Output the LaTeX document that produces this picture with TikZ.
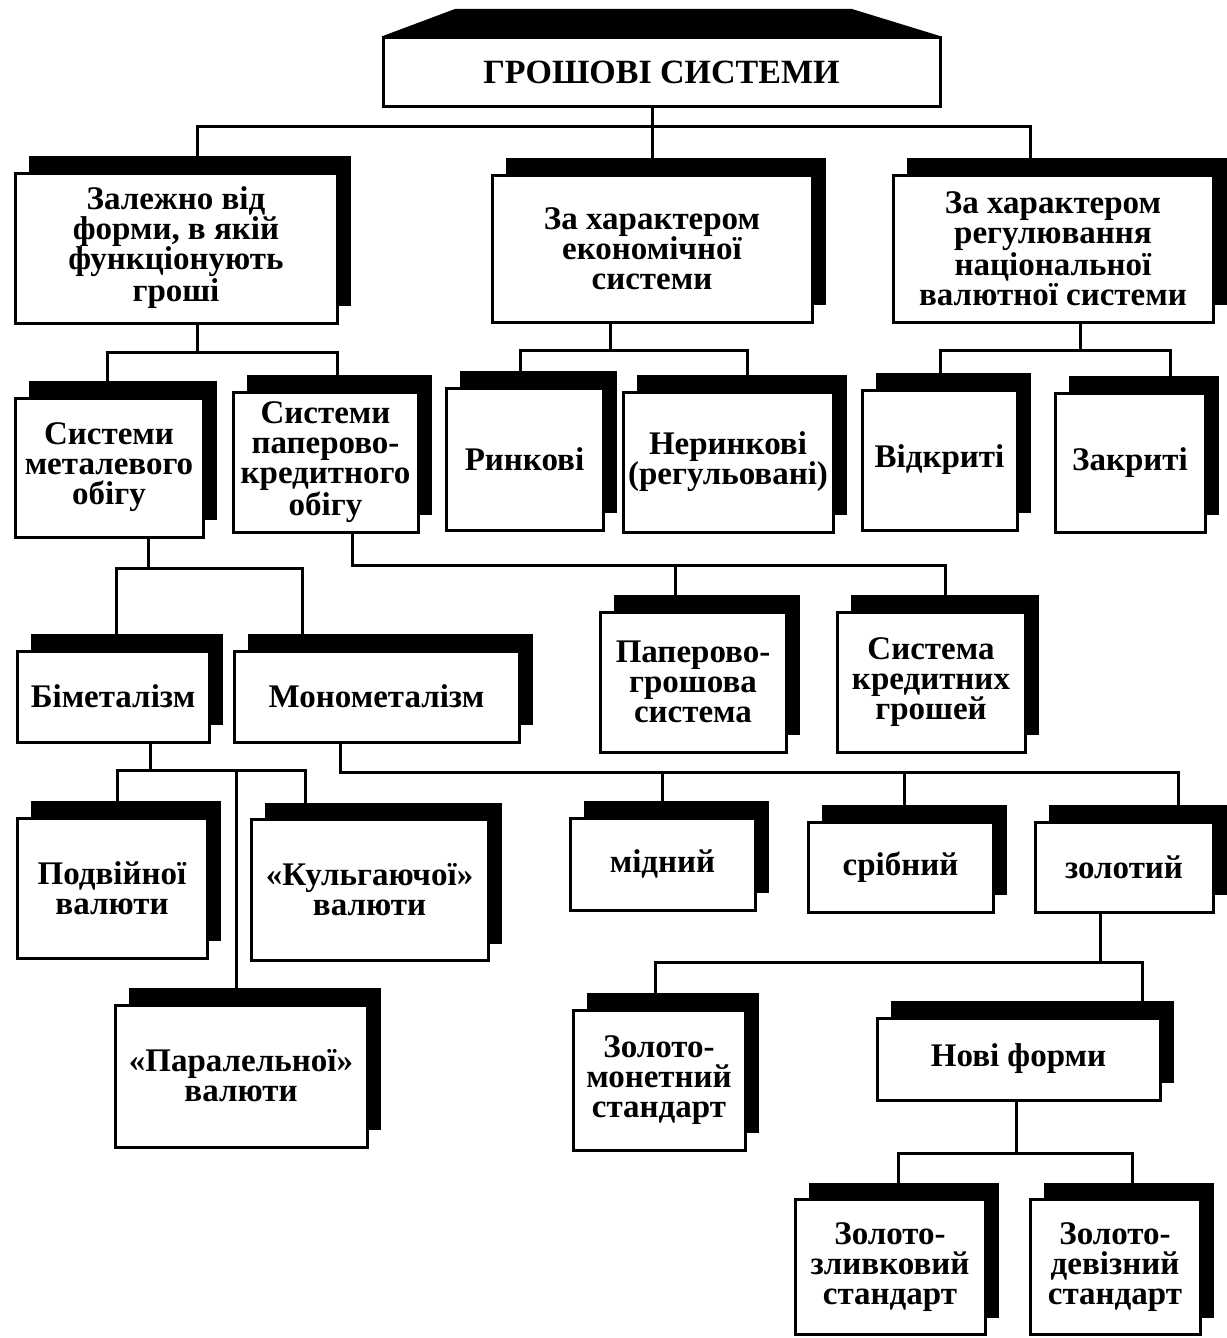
\documentclass[tikz,border=0pt]{standalone}
\usepackage{fontspec}
\setmainfont{Liberation Serif}
\usetikzlibrary{shadows}

\begin{document}
\begin{tikzpicture}[%
  x=0.5pt,y=-0.5pt,
  headbox/.style={rectangle,draw,fill=white,line width=1.5pt,inner sep=1pt,
    align=center,font=\bfseries\fontsize{17}{17}\selectfont},
  sysbox/.style={rectangle,draw,fill=white,line width=1.5pt,inner sep=1pt,
    align=center,font=\bfseries\fontsize{16.5}{15}\selectfont,
    drop shadow={shadow xshift=7pt,shadow yshift=8.5pt,fill=black,opacity=1}},
  link/.style={line width=1.5pt}]
    \useasboundingbox (0,0) rectangle (1226,1338);
    % Title
    \node[headbox,minimum width=278.5pt,minimum height=34.5pt] (title) at (661.5,72.5) {ГРОШОВІ СИСТЕМИ};
    \fill (title.north west) -- (455,9) -- (852,9) -- (title.north east) -- cycle;
    % First level
    \node[sysbox,minimum width=161pt,minimum height=75pt] (a1) at (176,248) {Залежно від\\форми, в якій\\функціонують\\гроші};
    \node[sysbox,minimum width=160pt,minimum height=73.5pt] (a2) at (652,248.5) {За характером\\економічної\\системи};
    \node[sysbox,minimum width=160pt,minimum height=73.5pt] (a3) at (1053,248.5) {За характером\\регулювання\\національної\\валютної системи};
    % Second level
    \node[sysbox,minimum width=94pt,minimum height=69.5pt] (b1) at (109,467.5) {Системи\\металевого\\обігу};
    \node[sysbox,minimum width=92.5pt,minimum height=70pt] (b2) at (325.5,462) {Системи\\паперово-\\кредитного\\обігу};
    \node[sysbox,minimum width=78.5pt,minimum height=71pt] (c1) at (524.5,459) {Ринкові};
    \node[sysbox,minimum width=105pt,minimum height=70pt] (c2) at (728,462) {Неринкові\\(регульовані)};
    \node[sysbox,minimum width=77.5pt,minimum height=70pt] (d1) at (939.5,460) {Відкриті};
    \node[sysbox,minimum width=75pt,minimum height=69.5pt] (d2) at (1130,462.5) {Закриті};
    % Third level
    \node[sysbox,minimum width=96pt,minimum height=45.5pt] (e1) at (113,696.5) {Біметалізм};
    \node[sysbox,minimum width=142.5pt,minimum height=45.5pt] (e2) at (376.5,696.5) {Монометалізм};
    \node[sysbox,minimum width=93pt,minimum height=70pt] (j1) at (693,682) {Паперово-\\грошова\\система};
    \node[sysbox,minimum width=94pt,minimum height=70pt] (j2) at (931,682) {Система\\кредитних\\грошей};
    % Bimetallism and monometallism
    \node[sysbox,minimum width=95pt,minimum height=70pt] (f1) at (112,888) {Подвійної\\валюти};
    \node[sysbox,minimum width=118.5pt,minimum height=70.5pt] (f2) at (369.5,890) {«Кульгаючої»\\валюти};
    \node[sysbox,minimum width=126pt,minimum height=71pt] (f3) at (241,1076) {«Паралельної»\\валюти};
    \node[sysbox,minimum width=92.5pt,minimum height=46pt] (g1) at (662.5,864) {мідний};
    \node[sysbox,minimum width=92.5pt,minimum height=45pt] (g2) at (900.5,867) {срібний};
    \node[sysbox,minimum width=89pt,minimum height=45pt] (g3) at (1124,867) {золотий};
    % Gold standard
    \node[sysbox,minimum width=86pt,minimum height=70pt] (h1) at (659,1080) {Золото-\\монетний\\стандарт};
    \node[sysbox,minimum width=141.5pt,minimum height=41pt] (h2) at (1018.5,1059) {Нові форми};
    \node[sysbox,minimum width=95pt,minimum height=67.5pt] (i1) at (890,1267) {Золото-\\зливковий\\стандарт};
    \node[sysbox,minimum width=85pt,minimum height=67.5pt] (i2) at (1115,1267) {Золото-\\девізний\\стандарт};
    % Junctions
    \coordinate (t0) at (652,127);
    \coordinate (tl) at (197,127);
    \coordinate (tr) at (1030,127);
    \coordinate (a1j) at (197,352);
    \coordinate (b1j) at (107,352);
    \coordinate (b2j) at (337,352);
    \coordinate (a2j) at (610,350);
    \coordinate (c1j) at (520,350);
    \coordinate (c2j) at (747,350);
    \coordinate (a3j) at (1080,350);
    \coordinate (d1j) at (940,350);
    \coordinate (d2j) at (1170,350);
    \coordinate (b1k) at (148,568);
    \coordinate (e1j) at (116,568);
    \coordinate (e2j) at (302,568);
    \coordinate (b2k) at (352,565);
    \coordinate (j1j) at (675,565);
    \coordinate (j2j) at (945,565);
    \coordinate (e1k) at (150,770);
    \coordinate (f1j) at (117,770);
    \coordinate (f2j) at (305,770);
    \coordinate (f3j) at (236,770);
    \coordinate (e2k) at (340,772);
    \coordinate (g1j) at (662,772);
    \coordinate (g2j) at (904,772);
    \coordinate (g3j) at (1178,772);
    \coordinate (g3k) at (1100,962);
    \coordinate (h1j) at (655,962);
    \coordinate (h2j) at (1142,962);
    \coordinate (h2k) at (1016,1153);
    \coordinate (i1j) at (898,1153);
    \coordinate (i2j) at (1132,1153);
    % Connectors
    \draw[link] (title.south -| t0) -- (a2.north -| t0);
    \draw[link] (a1.north -| tl) -- (tl) -- (tr) -- (a3.north -| tr);
    \draw[link] (a1.south -| a1j) -- (a1j);
    \draw[link] (b1.north -| b1j) -- (b1j) -- (b2j) -- (b2.north -| b2j);
    \draw[link] (a2.south -| a2j) -- (a2j);
    \draw[link] (c1.north -| c1j) -- (c1j) -- (c2j) -- (c2.north -| c2j);
    \draw[link] (a3.south -| a3j) -- (a3j);
    \draw[link] (d1.north -| d1j) -- (d1j) -- (d2j) -- (d2.north -| d2j);
    \draw[link] (b1.south -| b1k) -- (b1k);
    \draw[link] (e1.north -| e1j) -- (e1j) -- (e2j) -- (e2.north -| e2j);
    \draw[link] (b2.south -| b2k) -- (b2k) -- (j2j) -- (j2.north -| j2j);
    \draw[link] (j1j) -- (j1.north -| j1j);
    \draw[link] (e1.south -| e1k) -- (e1k);
    \draw[link] (f1.north -| f1j) -- (f1j) -- (f2j) -- (f2.north -| f2j);
    \draw[link] (f3j) -- (f3.north -| f3j);
    \draw[link] (e2.south -| e2k) -- (e2k) -- (g3j) -- (g3.north -| g3j);
    \draw[link] (g1j) -- (g1.north -| g1j);
    \draw[link] (g2j) -- (g2.north -| g2j);
    \draw[link] (g3.south -| g3k) -- (g3k);
    \draw[link] (h1.north -| h1j) -- (h1j) -- (h2j) -- (h2.north -| h2j);
    \draw[link] (h2.south -| h2k) -- (h2k);
    \draw[link] (i1.north -| i1j) -- (i1j) -- (i2j) -- (i2.north -| i2j);
\end{tikzpicture}
\end{document}
